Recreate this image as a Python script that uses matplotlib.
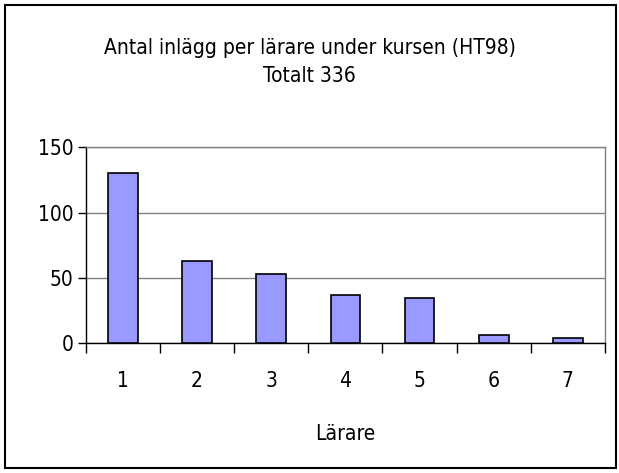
import matplotlib.pyplot as plt
from matplotlib.patches import Rectangle

teachers = ["1", "2", "3", "4", "5", "6", "7"]
posts = [130, 63, 53, 37, 35, 6, 4]
y_ticks = [0, 50, 100, 150]

FONT = ["DejaVu Sans Condensed", "DejaVu Sans"]
plt.rcParams["font.family"] = FONT
plt.rcParams["font.stretch"] = "condensed"


def main():
    fig = plt.figure(figsize=(6.19, 4.73), dpi=100)
    ax = fig.add_axes([0.1385, 0.2742, 0.9774 - 0.1385, 0.6886 - 0.2742])

    x = list(range(1, len(teachers) + 1))
    ax.bar(x, posts, width=0.4, color="#9999FF", edgecolor="black",
           linewidth=1.2, zorder=3)

    ax.set_xlim(0.5, len(teachers) + 0.5)
    ax.set_ylim(0, 150)
    ax.set_yticks(y_ticks)
    ax.yaxis.grid(True, color="#808080", linewidth=1, zorder=0)

    ax.set_xticks(x)
    ax.set_xticklabels(teachers)
    ax.set_xticks([i + 0.5 for i in range(len(teachers) + 1)], minor=True)
    ax.tick_params(axis="x", which="major", length=0, pad=20, labelsize=15)
    ax.tick_params(axis="x", which="minor", length=7, direction="out", width=1)
    ax.tick_params(axis="y", length=6, direction="out", width=1, labelsize=15, pad=3)

    for side in ["left", "bottom"]:
        ax.spines[side].set_color("black")
        ax.spines[side].set_linewidth(1)
    for side in ["right", "top"]:
        ax.spines[side].set_color("#808080")
        ax.spines[side].set_linewidth(1)

    ax.set_xlabel("Lärare", fontsize=15, labelpad=24)

    fig.text(0.5, 1 - 48 / 473, "Antal inlägg per lärare under kursen (HT98)",
             ha="center", va="center", fontsize=15)
    fig.text(0.5, 1 - 76 / 473, "Totalt 336", ha="center", va="center", fontsize=15)

    fig.patches.append(Rectangle((5 / 619, 5 / 473), 611 / 619, 463 / 473,
                                 transform=fig.transFigure, fill=False,
                                 edgecolor="black", linewidth=1.5))

    fig.savefig("out.png", dpi=100)
    plt.close(fig)


if __name__ == "__main__":
    main()
